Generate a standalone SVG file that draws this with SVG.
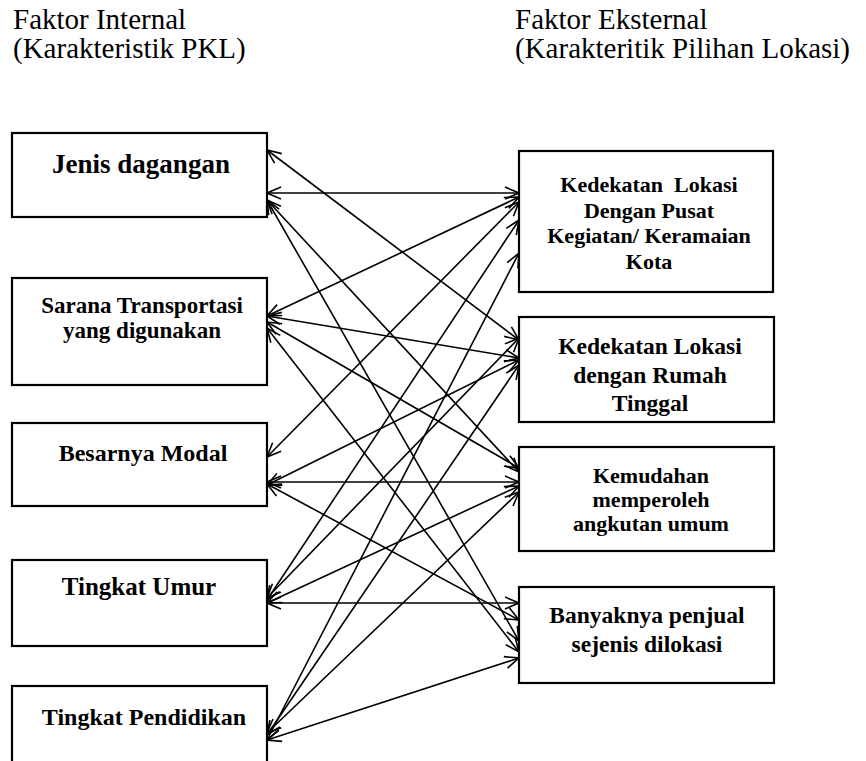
<svg xmlns="http://www.w3.org/2000/svg" width="866" height="761" viewBox="0 0 866 761">
<style>
.hdr{font-family:'Liberation Serif','DejaVu Serif',serif;font-size:29px;fill:#000}
.t{font-family:'Liberation Serif','DejaVu Serif',serif;font-weight:bold;fill:#000;text-anchor:middle}
.box{fill:#fff;stroke:#000;stroke-width:2.2}
.c line{stroke:#000;stroke-width:1.6;marker-start:url(#ah);marker-end:url(#ah)}
</style>
<defs>
<marker id="ah" markerUnits="userSpaceOnUse" viewBox="0 0 16 14" markerWidth="16" markerHeight="14" refX="15" refY="7" orient="auto-start-reverse">
<path d="M1,1 L15,7 L1,13" fill="none" stroke="#000" stroke-width="1.6"/>
</marker>
</defs>
<rect width="866" height="761" fill="#fff"/>
<g id="headers">
<text class="hdr" x="13" y="29" font-family="Liberation Serif, DejaVu Serif, serif">Faktor Internal</text>
<text class="hdr" x="13" y="58" font-family="Liberation Serif, DejaVu Serif, serif">(Karakteristik PKL)</text>
<text class="hdr" x="515" y="29" font-family="Liberation Serif, DejaVu Serif, serif">Faktor Eksternal</text>
<text class="hdr" x="515" y="58" font-family="Liberation Serif, DejaVu Serif, serif">(Karakteritik Pilihan Lokasi)</text>
</g>
<g class="c" id="connectors">
<line x1="267" y1="193" x2="519" y2="193"/>
<line x1="267" y1="150" x2="519" y2="340"/>
<line x1="267" y1="200" x2="519" y2="472"/>
<line x1="267" y1="200" x2="519" y2="641"/>
<line x1="267" y1="316" x2="519" y2="197"/>
<line x1="267" y1="316" x2="519" y2="358"/>
<line x1="267" y1="322" x2="519" y2="468"/>
<line x1="267" y1="328" x2="519" y2="652"/>
<line x1="267" y1="457" x2="519" y2="202"/>
<line x1="267" y1="485" x2="519" y2="360"/>
<line x1="267" y1="482" x2="519" y2="482"/>
<line x1="267" y1="484" x2="519" y2="620"/>
<line x1="267" y1="600" x2="519" y2="220"/>
<line x1="267" y1="598" x2="519" y2="338"/>
<line x1="267" y1="603" x2="519" y2="486"/>
<line x1="267" y1="603" x2="519" y2="603"/>
<line x1="267" y1="740" x2="519" y2="253"/>
<line x1="267" y1="735" x2="519" y2="365"/>
<line x1="267" y1="733" x2="519" y2="492"/>
<line x1="267" y1="740" x2="519" y2="658"/>
</g>
<g id="jenis">
<rect class="box" x="12" y="133" width="255" height="84"/>
<text class="t" x="141" y="173" font-size="27">Jenis dagangan</text>
</g>
<g id="sarana">
<rect class="box" x="12" y="278" width="255" height="107"/>
<text class="t" x="142" y="313" font-size="23">Sarana Transportasi</text>
<text class="t" x="142" y="338" font-size="23">yang digunakan</text>
</g>
<g id="modal">
<rect class="box" x="12" y="423" width="255" height="83"/>
<text class="t" x="143" y="461" font-size="24">Besarnya Modal</text>
</g>
<g id="umur">
<rect class="box" x="12" y="560" width="255" height="86"/>
<text class="t" x="139" y="595" font-size="25">Tingkat Umur</text>
</g>
<g id="pendidikan">
<rect class="box" x="12" y="686" width="255" height="90"/>
<text class="t" x="144" y="725" font-size="24">Tingkat Pendidikan</text>
</g>
<g id="pusat">
<rect class="box" x="519" y="151" width="254" height="141"/>
<text class="t" x="649" y="192" font-size="22" xml:space="preserve">Kedekatan  Lokasi</text>
<text class="t" x="649" y="218" font-size="22">Dengan Pusat</text>
<text class="t" x="649" y="243" font-size="22">Kegiatan/ Keramaian</text>
<text class="t" x="649" y="269" font-size="22">Kota</text>
</g>
<g id="rumah">
<rect class="box" x="519" y="317" width="255" height="105"/>
<text class="t" x="650" y="354" font-size="23.5">Kedekatan Lokasi</text>
<text class="t" x="650" y="383" font-size="23.5">dengan Rumah</text>
<text class="t" x="650" y="411" font-size="23.5">Tinggal</text>
</g>
<g id="angkutan">
<rect class="box" x="519" y="447" width="255" height="104"/>
<text class="t" x="651" y="483" font-size="22">Kemudahan</text>
<text class="t" x="651" y="507" font-size="22">memperoleh</text>
<text class="t" x="651" y="531" font-size="22">angkutan umum</text>
</g>
<g id="penjual">
<rect class="box" x="519" y="587" width="255" height="96"/>
<text class="t" x="647" y="623" font-size="23.5">Banyaknya penjual</text>
<text class="t" x="647" y="652" font-size="23.5">sejenis dilokasi</text>
</g>
</svg>
